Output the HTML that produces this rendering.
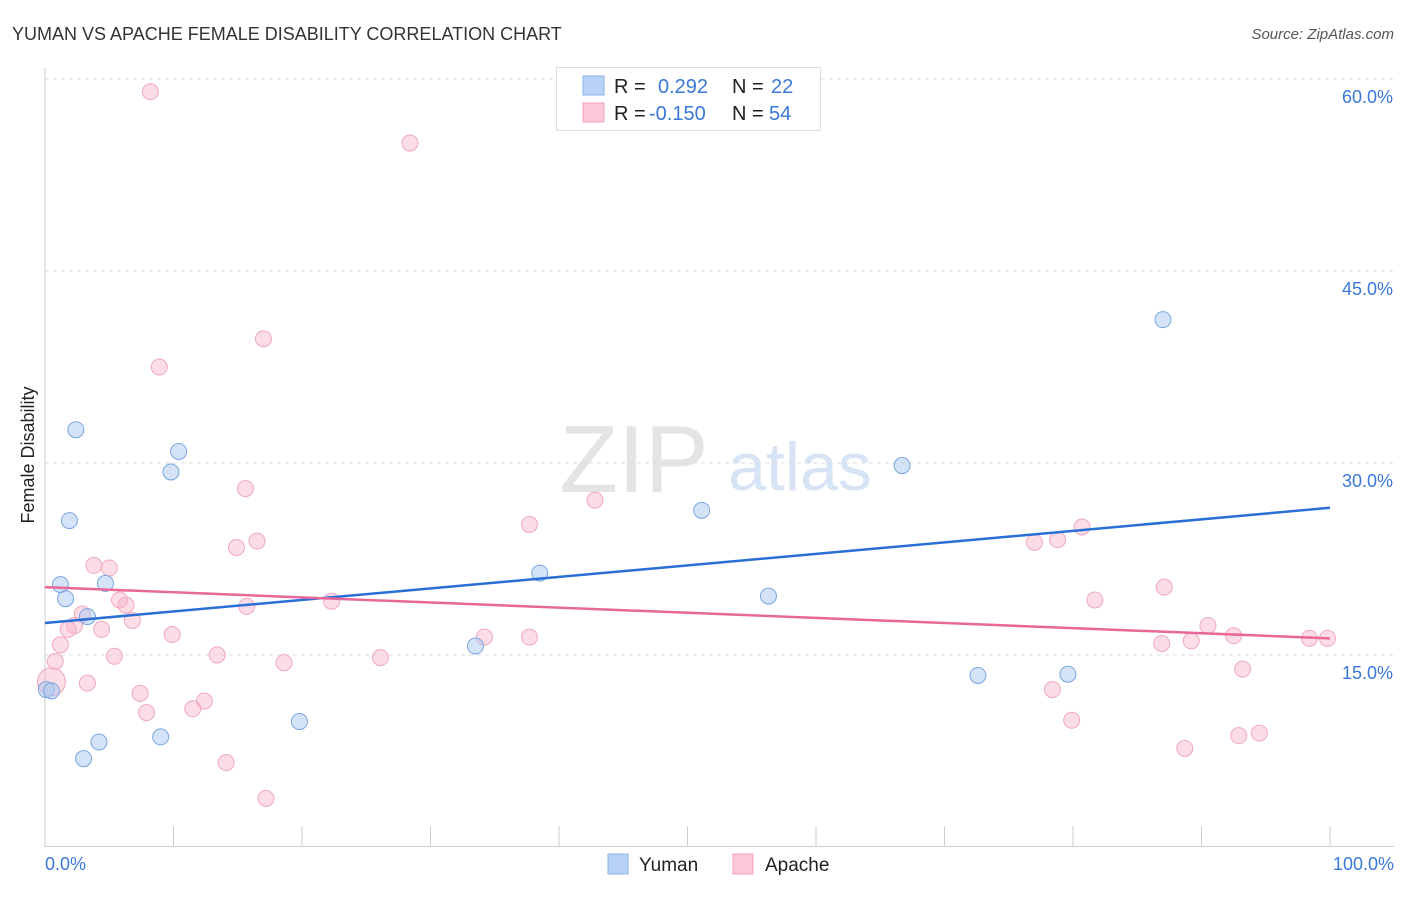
<!DOCTYPE html>
<html><head><meta charset="utf-8"><style>
body{margin:0;background:#fff;font-family:"Liberation Sans",sans-serif;}
svg text{font-family:"Liberation Sans",sans-serif;}
</style></head><body>
<svg id="c" width="1406" height="892" xmlns="http://www.w3.org/2000/svg">
<text x="12" y="40" font-size="18" fill="#333">YUMAN VS APACHE FEMALE DISABILITY CORRELATION CHART</text>
<text x="1394" y="39" font-size="15" fill="#555" font-style="italic" text-anchor="end">Source: ZipAtlas.com</text>
<text x="634" y="492" font-size="96" fill="#e4e4e4" font-family="Liberation Serif" text-anchor="middle">ZIP</text>
<text x="800" y="490" font-size="68" fill="#d6e4f5" text-anchor="middle">atlas</text>
<text transform="translate(34,455) rotate(-90)" font-size="18" fill="#222" text-anchor="middle">Female Disability</text>
<g id="grid"></g><g id="pts"></g><g id="trend"></g>
<g>
<rect x="556.5" y="67.5" width="264" height="63" fill="#fff" stroke="#ddd"/>
<rect x="583" y="76" width="21" height="19" fill="#b8d3f5" stroke="#8ab3e8"/>
<rect x="583" y="103" width="21" height="19" fill="#fcc8d8" stroke="#f0a0b8"/>
<text x="614" y="93" font-size="20" fill="#222">R =</text><text x="658" y="93" font-size="20" fill="#3a78d8">0.292</text>
<text x="732" y="93" font-size="20" fill="#222">N =</text><text x="771" y="93" font-size="20" fill="#3a78d8">22</text>
<text x="614" y="120" font-size="20" fill="#222">R =</text><text x="649" y="120" font-size="20" fill="#3a78d8">-0.150</text>
<text x="732" y="120" font-size="20" fill="#222">N =</text><text x="769" y="120" font-size="20" fill="#3a78d8">54</text>
</g>
<g>
<rect x="608" y="854" width="20" height="20" fill="#b8d3f5" stroke="#8ab3e8"/>
<text x="639" y="871" font-size="19" fill="#222">Yuman</text>
<rect x="733" y="854" width="20" height="20" fill="#fcc8d8" stroke="#f0a0b8"/>
<text x="765" y="871" font-size="19" fill="#222">Apache</text>
</g>
</svg>
<script>
const yTicks=[15,30,45,60];
const xTickLabels=["0.0%","100.0%"];
const yumanX=[0.1,0.5,1.2,1.6,1.9,2.4,3.0,3.3,4.2,4.7,9.0,9.8,10.4,19.8,33.5,38.5,51.1,56.3,66.7,72.6,79.6,87.0];
const yumanY=[12.3,12.2,20.5,19.4,25.5,32.6,6.9,18.0,8.2,20.6,8.6,29.3,30.9,9.8,15.7,21.4,26.3,19.6,29.8,13.4,13.5,41.2];
const apacheX=[8.2,28.4,17.0,8.9,15.6,42.8,37.7,80.7,16.5,14.9,77.0,78.8,3.8,5.0,87.1,5.8,6.3,15.7,22.3,81.7,2.9,6.8,2.3,1.8,4.4,90.5,9.9,34.2,37.7,92.5,98.4,99.8,86.9,89.2,1.2,5.4,13.4,0.8,26.1,18.6,93.2,0.5,3.3,78.4,7.4,12.4,11.5,7.9,79.9,94.5,92.9,88.7,14.1,17.2];
const apacheY=[59.0,55.0,39.7,37.5,28.0,27.1,25.2,25.0,23.9,23.4,23.8,24.0,22.0,21.8,20.3,19.3,18.9,18.8,19.2,19.3,18.2,17.7,17.3,17.0,17.0,17.3,16.6,16.4,16.4,16.5,16.3,16.3,15.9,16.1,15.8,14.9,15.0,14.5,14.8,14.4,13.9,12.9,12.8,12.3,12.0,11.4,10.8,10.5,9.9,8.9,8.7,7.7,6.6,3.8];
const yumanTrend=[17.5,26.5];
const apacheTrend=[20.3,16.3];
const NS="http://www.w3.org/2000/svg";
const sx=v=>45+v*12.85, sy=v=>847-v*12.8;
function mk(t,a,p){const e=document.createElementNS(NS,t);for(const k in a)e.setAttribute(k,a[k]);p.appendChild(e);return e;}
const grid=document.getElementById('grid');
yTicks.forEach(t=>{
 const l=mk('line',{x1:45,x2:1394,y1:sy(t),y2:sy(t),stroke:'#ddd','stroke-dasharray':'4,4'},grid);
 
 
 const tx=mk('text',{x:1393,y:sy(t)+24,'font-size':18,fill:'#3a78d8','text-anchor':'end'},grid);
 tx.textContent=t.toFixed(1)+'%';
 
 
});
mk('line',{x1:45,x2:45,y1:68,y2:847,stroke:'#ccc'},grid);
mk('line',{x1:45,x2:1394,y1:846.5,y2:846.5,stroke:'#ccc'},grid);
for(let i=0;i<=10;i++){mk('line',{x1:sx(i*10),x2:sx(i*10),y1:826,y2:847,stroke:'#ccc'},grid);}
[[0,'start',45],[100,'end',1394]].forEach((d,i)=>{const t=mk('text',{x:d[2],y:870,'font-size':18,fill:'#3a78d8','text-anchor':d[1]},grid);t.textContent=xTickLabels[i];
 
 });
const pts=document.getElementById('pts');
apacheX.forEach((x,i)=>{const c=mk('circle',{cx:sx(x),cy:sy(apacheY[i]),r:(i==41?14:8),fill:'rgba(248,180,200,0.45)',stroke:'#f0a8c0','stroke-width':1},pts);
 
 });
yumanX.forEach((x,i)=>{const c=mk('circle',{cx:sx(x),cy:sy(yumanY[i]),r:8,fill:'rgba(170,200,240,0.5)',stroke:'#7aa6e0','stroke-width':1},pts);
 
 });
const tr=document.getElementById('trend');
const l1=mk('line',{x1:sx(0),x2:sx(100),y1:sy(yumanTrend[0]),y2:sy(yumanTrend[1]),stroke:'#2a6fd6','stroke-width':2.5},tr);


const l2=mk('line',{x1:sx(0),x2:sx(100),y1:sy(apacheTrend[0]),y2:sy(apacheTrend[1]),stroke:'#e8689a','stroke-width':2.5},tr);


</script>
</body></html>
